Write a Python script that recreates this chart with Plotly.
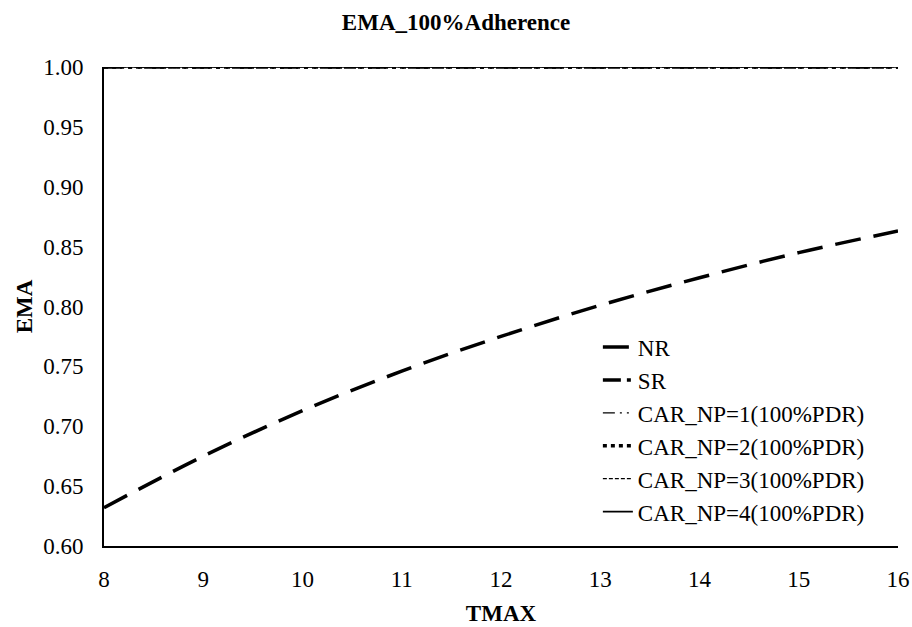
import plotly.graph_objects as go

tmax = [8, 9, 10, 11, 12, 13, 14, 15, 16]
ema_nr = [0.632, 0.675, 0.713, 0.746, 0.775, 0.801, 0.824, 0.845, 0.863]
ema_sr = [1.0] * 9
ema_car1 = [1.0] * 9
ema_car2 = [1.0] * 9
ema_car3 = [1.0] * 9
ema_car4 = [1.0] * 9

series = [
    ("NR", ema_nr, 3.5, "26px,13px"),
    ("SR", ema_sr, 3.5, "18px,6px,4px,6px,4px,6px"),
    ("CAR_NP=1(100%PDR)", ema_car1, 1.2, "12px,5px,2px,5px,2px,5px"),
    ("CAR_NP=2(100%PDR)", ema_car2, 3.5, "4px,4px"),
    ("CAR_NP=3(100%PDR)", ema_car3, 1.2, "4px,2px"),
    ("CAR_NP=4(100%PDR)", ema_car4, 1.6, "solid"),
]

font = "Liberation Serif, Times New Roman, serif"

fig = go.Figure()
for name, ys, w, dash in series:
    fig.add_trace(go.Scatter(
        x=tmax, y=ys, mode="lines", name=name,
        line=dict(color="black", width=w, dash=dash, shape="spline"),
    ))

fig.update_layout(
    width=912, height=627,
    margin=dict(l=104, r=14, t=67, b=81),
    paper_bgcolor="white", plot_bgcolor="white",
    font=dict(family=font, size=23, color="black"),
    title=dict(text="<b>EMA_100%Adherence</b>", x=0.5, xanchor="center",
               y=1 - 22 / 627, yanchor="middle", font=dict(size=23, family=font)),
    xaxis=dict(
        range=[8, 16], tickmode="array", tickvals=tmax,
        showgrid=False, zeroline=False, showline=True, linecolor="black",
        linewidth=2, ticks="", tickfont=dict(size=23), ticklabelstandoff=11,
        automargin=False,
        title=dict(text="<b>TMAX</b>", font=dict(size=23), standoff=14),
    ),
    yaxis=dict(
        range=[0.6, 1.0], dtick=0.05, tickformat=".2f",
        showgrid=False, zeroline=False, showline=True, linecolor="black",
        linewidth=2, ticks="", tickfont=dict(size=23), ticklabelstandoff=14,
        automargin=False,
        title=dict(text="<b>EMA</b>", font=dict(size=23), standoff=4),
    ),
    legend=dict(
        x=0.622, y=0.46, xanchor="left", yanchor="top",
        bgcolor="rgba(0,0,0,0)", font=dict(size=23, family=font),
        tracegroupgap=0,
    ),
    showlegend=True,
)

fig.write_html("out.html")
